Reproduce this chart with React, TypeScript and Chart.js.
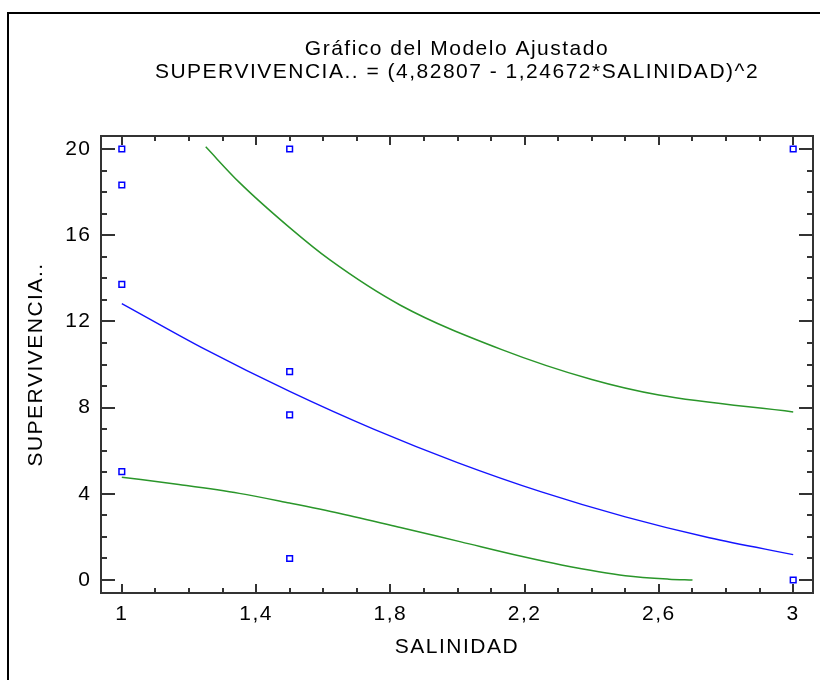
import React, { useEffect, useRef } from 'react';
import { Chart, registerables } from 'chart.js';

Chart.register(...registerables);

// ---- Text ----
const TITLE_LINES = ['Gráfico del Modelo Ajustado', 'SUPERVIVENCIA.. = (4,82807 - 1,24672*SALINIDAD)^2'];
const X_LABEL = 'SALINIDAD';
const Y_LABEL = 'SUPERVIVENCIA..';

// ---- Observed points ----
const OBS_X = [1, 1, 1, 1, 1.5, 1.5, 1.5, 1.5, 3, 3];
const OBS_Y = [20, 18.33, 13.72, 5.03, 20, 9.67, 7.66, 1.0, 20, 0];

// ---- Fitted line ----
const FIT_X = [1, 1.25, 1.5, 1.75, 2, 2.25, 2.5, 2.75, 3];
const FIT_Y = [12.83, 10.69, 8.75, 7.0, 5.45, 4.09, 2.93, 1.96, 1.18];

// ---- Upper band ----
const UPPER_X = [1.25, 1.35, 1.5, 1.62, 1.83, 2.13, 2.4, 2.6, 3.0];
const UPPER_Y = [20.1, 18.45, 16.35, 14.85, 12.75, 10.7, 9.3, 8.58, 7.8];

// ---- Lower band ----
const LOWER_X = [1.0, 1.17, 1.35, 1.5, 1.65, 1.83, 2.01, 2.19, 2.31, 2.5, 2.63, 2.7];
const LOWER_Y = [4.77, 4.43, 4.02, 3.57, 3.09, 2.44, 1.77, 1.1, 0.7, 0.2, 0.04, 0.0];

// ---- Axes ----
const X_TICKS = [1, 1.4, 1.8, 2.2, 2.6, 3];
const Y_TICKS = [0, 4, 8, 12, 16, 20];
const X_MIN = 0.938;
const X_MAX = 3.059;
const Y_MIN = -0.603;
const Y_MAX = 20.603;

const FONT_FAMILY = '"Liberation Sans", Arial, sans-serif';
const FONT_SIZE = 21;
const LETTER_SPACING = '1.5px';
const AXIS_COLOR = '#333333';

const pts = (xs: number[], ys: number[]) => xs.map((x, i) => ({ x, y: ys[i] }));

const framePlugin = {
  id: 'frameTicks',
  beforeUpdate(chart: any) {
    (chart.ctx as any).letterSpacing = LETTER_SPACING;
  },
  beforeDraw(chart: any) {
    (chart.ctx as any).letterSpacing = LETTER_SPACING;
  },
  beforeDatasetsDraw(chart: any) {
    const { ctx, chartArea: a, scales } = chart;
    const xs = scales.x;
    const ys = scales.y;
    ctx.save();
    ctx.strokeStyle = AXIS_COLOR;
    ctx.lineWidth = 2;
    ctx.beginPath();
    const seg = (x1: number, y1: number, x2: number, y2: number) => {
      ctx.moveTo(x1, y1);
      ctx.lineTo(x2, y2);
    };
    for (let i = Math.ceil(X_MIN * 10); i <= Math.floor(X_MAX * 10); i++) {
      const v = i / 10;
      const major = X_TICKS.some((t) => Math.abs(t - v) < 1e-6);
      const len = major ? 9 : 5;
      const px = Math.round(xs.getPixelForValue(v));
      seg(px, a.bottom, px, a.bottom - len);
      seg(px, a.top, px, a.top + len);
    }
    for (let v = Math.ceil(Y_MIN); v <= Math.floor(Y_MAX); v++) {
      const major = Y_TICKS.includes(v);
      const len = major ? 14 : 6;
      const py = Math.round(ys.getPixelForValue(v));
      seg(a.left, py, a.left + len, py);
      seg(a.right, py, a.right - len, py);
    }
    ctx.stroke();
    ctx.strokeRect(a.left, a.top, a.right - a.left, a.bottom - a.top);
    ctx.restore();
  },
};

export default function App() {
  const canvasRef = useRef<HTMLCanvasElement | null>(null);

  useEffect(() => {
    const canvas = canvasRef.current;
    if (!canvas) return;
    const font = { family: FONT_FAMILY, size: FONT_SIZE, weight: 'normal' as const };
    const chart = new Chart(canvas, {
      type: 'scatter',
      data: {
        datasets: [
          {
            label: 'Observados',
            data: pts(OBS_X, OBS_Y),
            showLine: false,
            pointStyle: 'rect',
            pointRadius: 4,
            pointBorderWidth: 1.5,
            pointBorderColor: '#0000ff',
            pointBackgroundColor: '#ffffff',
            borderColor: '#0000ff',
            backgroundColor: '#ffffff',
          },
          {
            label: 'Ajuste',
            data: pts(FIT_X, FIT_Y),
            showLine: true,
            borderColor: '#1414ff',
            borderWidth: 1.4,
            pointRadius: 0,
            cubicInterpolationMode: 'monotone',
            fill: false,
          },
          {
            label: 'Límite superior',
            data: pts(UPPER_X, UPPER_Y),
            showLine: true,
            borderColor: '#2a962a',
            borderWidth: 1.5,
            pointRadius: 0,
            cubicInterpolationMode: 'monotone',
            fill: false,
          },
          {
            label: 'Límite inferior',
            data: pts(LOWER_X, LOWER_Y),
            showLine: true,
            borderColor: '#2a962a',
            borderWidth: 1.5,
            pointRadius: 0,
            cubicInterpolationMode: 'monotone',
            fill: false,
          },
        ] as any,
      },
      options: {
        responsive: false,
        animation: false,
        events: [],
        layout: { padding: { left: 0, right: 7, top: 0, bottom: 0 } },
        plugins: {
          legend: { display: false },
          tooltip: { enabled: false },
          title: {
            display: true,
            text: TITLE_LINES,
            fullSize: false,
            align: 'center',
            color: '#000000',
            font: { family: FONT_FAMILY, size: FONT_SIZE, weight: 'normal', lineHeight: 23 / FONT_SIZE },
            padding: { top: 38, bottom: 52 },
          },
        },
        scales: {
          x: {
            type: 'linear',
            position: 'bottom',
            min: X_MIN,
            max: X_MAX,
            afterBuildTicks: (s: any) => {
              s.ticks = X_TICKS.map((v) => ({ value: v }));
            },
            afterFit: (s: any) => {
              s.height = 87;
            },
            ticks: {
              autoSkip: false,
              maxRotation: 0,
              padding: 8.4,
              color: '#000000',
              font,
              callback: (v: any) => String(v).replace('.', ','),
            },
            grid: { display: false, drawTicks: false },
            border: { display: false },
            title: {
              display: true,
              text: X_LABEL,
              color: '#000000',
              font,
              padding: { top: 0, bottom: 20.4 },
            },
          },
          y: {
            type: 'linear',
            position: 'left',
            min: Y_MIN,
            max: Y_MAX,
            afterBuildTicks: (s: any) => {
              s.ticks = Y_TICKS.map((v) => ({ value: v }));
            },
            afterFit: (s: any) => {
              s.width = 101;
            },
            ticks: {
              padding: 9.5,
              color: '#000000',
              font,
              callback: (v: any) => String(v).replace('.', ','),
            },
            grid: { display: false, drawTicks: false },
            border: { display: false },
            title: {
              display: true,
              text: Y_LABEL,
              color: '#000000',
              font,
              padding: { top: 23.4, bottom: 0 },
            },
          },
        },
      } as any,
      plugins: [framePlugin],
    });
    return () => chart.destroy();
  }, []);

  return (
    <div style={{ position: 'fixed', left: 0, top: 0, width: 820, height: 680, background: '#ffffff', overflow: 'hidden' }}>
      <div
        style={{
          position: 'absolute',
          left: 7,
          top: 12,
          right: -10,
          bottom: -10,
          borderTop: '2px solid #000',
          borderLeft: '2px solid #000',
        }}
      />
      <canvas ref={canvasRef} width={820} height={680} style={{ position: 'absolute', left: 0, top: 0, width: 820, height: 680 }} />
    </div>
  );
}
